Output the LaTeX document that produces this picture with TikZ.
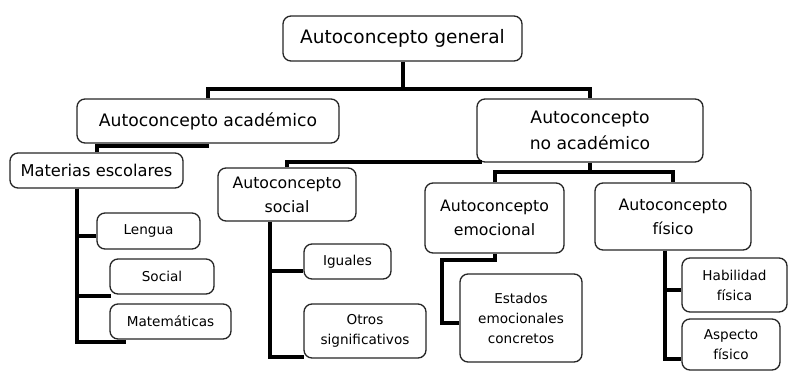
\documentclass[tikz,border=0pt]{standalone}
\usepackage{fontspec}
\setmainfont{DejaVu Sans}
\usetikzlibrary{calc}
\begin{document}
\begin{tikzpicture}[x=0.75pt,y=-0.75pt,
  box/.style={draw=black!85,line width=1pt,rounded corners=6pt,fill=white,inner sep=0pt,align=center},
  conn/.style={line width=3pt,black},
  fA/.style={font=\fontsize{13.9}{17}\selectfont},
  fB/.style={font=\fontsize{12.9}{19.5}\selectfont},
  fC/.style={font=\fontsize{11.8}{18}\selectfont},
  fM/.style={font=\fontsize{12.2}{15}\selectfont},
  fS/.style={font=\fontsize{10.2}{15}\selectfont}]
\useasboundingbox (0,0) rectangle (788,371);
% nodes
\node[box,fA,minimum width=179.25pt,minimum height=33.75pt] (gen) at (402.5,38.5) {Autoconcepto general};
\node[box,fB,minimum width=196.5pt,minimum height=33pt] (aca) at (208,121) {Autoconcepto académico};
\node[box,fB,minimum width=169.5pt,minimum height=47.25pt] (na) at (590,130.5) {Autoconcepto\\no académico};
\node[box,fM,minimum width=129.75pt,minimum height=26.25pt] (mat) at (96.5,170.5) {Materias escolares};
\node[box,fC,minimum width=103.5pt,minimum height=39.75pt] (soc) at (287,194.5) {Autoconcepto\\social};
\node[box,fC,minimum width=104.25pt,minimum height=52.5pt] (emo) at (494.5,218) {Autoconcepto\\emocional};
\node[box,fC,minimum width=117pt,minimum height=50.25pt] (fis) at (673,216.5) {Autoconcepto\\físico};
\node[box,fS,minimum width=77.25pt,minimum height=27pt] (len) at (148.5,231) {Lengua};
\node[box,fS,minimum width=78pt,minimum height=26.25pt] (soci) at (162,276.5) {Social};
\node[box,fS,minimum width=90.75pt,minimum height=26.25pt] (mate) at (170.5,321.5) {Matemáticas};
\node[box,fS,minimum width=65.25pt,minimum height=26.25pt] (igu) at (347.5,261.5) {Iguales};
\node[box,fS,minimum width=91.5pt,minimum height=40.5pt] (otr) at (365,331) {Otros\\significativos};
\node[box,fS,minimum width=91.5pt,minimum height=66pt] (est) at (521,318) {Estados\\emocionales\\concretos};
\node[box,fS,minimum width=78.75pt,minimum height=40.5pt] (hab) at (734.5,285) {Habilidad\\física};
\node[box,fS,minimum width=73.5pt,minimum height=38.25pt] (asp) at (731,344.5) {Aspecto\\físico};
% coordinates
\coordinate (g1) at (402.5,89);
\coordinate (a1) at (209,146);
\coordinate (n1) at (482,162);
\coordinate (n2) at (590,172);
\coordinate (mx) at (77,0);
\coordinate (sx) at (270,0);
\coordinate (fx) at (665,0);
\coordinate (e1) at (442,260);
% connectors
\draw[conn] (gen.south) -- (g1);
\draw[conn] (aca.north) |- (g1) -| (na.north);
\draw[conn] (mat.north) |- (a1);
\draw[conn] (soc.north) |- (n1);
\draw[conn] (na.south) -- (n2);
\draw[conn] (emo.north) |- (n2) -| (fis.north);
\draw[conn] (mat.south -| mx) |- ($(len.west)+(0,5)$);
\draw[conn] (mat.south -| mx) |- ($(soci.south west)+(2,1)$);
\draw[conn] (mat.south -| mx) |- ($(mate.south west)+(17,2)$);
\draw[conn] (soc.south -| sx) |- ($(igu.west)+(0,9.5)$);
\draw[conn] (soc.south -| sx) |- ($(otr.south west)+(1,-2)$);
\draw[conn] (emo.south) |- (e1) |- ($(est.west)+(0,5)$);
\draw[conn] (fis.south -| fx) |- ($(hab.west)+(0,5)$);
\draw[conn] (fis.south -| fx) |- ($(asp.west)+(0,14.5)$);
\end{tikzpicture}
\end{document}
